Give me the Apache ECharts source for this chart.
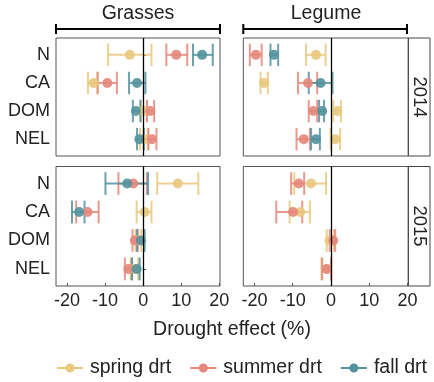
<!DOCTYPE html>
<html>
<head>
<meta charset="utf-8">
<script src="https://cdn.jsdelivr.net/npm/echarts@6/dist/echarts.min.js"></script>
<style>
  html, body { margin: 0; padding: 0; background: #fff; }
  #chart { width: 434px; height: 382px; }
</style>
</head>
<body>
<div id="chart"></div>
<script>
// categories (top to bottom) and x ticks
const categories = ['N', 'CA', 'DOM', 'NEL'];
const xTicks = [-20, -10, 0, 10, 20];
const seasons = ['spring drt', 'summer drt', 'fall drt'];

// each row: [mean, lower, upper] for N, CA, DOM, NEL
const grass2014Spring = [[-3.5, -9.2, 2.2], [-13.0, -14.5, -11.9], [0.2, -0.7, 1.0], [0.4, -0.8, 1.2]];
const grass2014Summer = [[8.7, 6.1, 11.6], [-9.4, -12.0, -6.9], [1.9, 1.0, 2.9], [2.3, 1.4, 3.5]];
const grass2014Fall = [[15.5, 13.1, 18.3], [-1.6, -3.7, 0.6], [-1.9, -2.7, -0.7], [-1.0, -1.6, 0.2]];

const legume2014Spring = [[-3.9, -6.5, -1.4], [-17.5, -18.4, -16.5], [1.7, 0.6, 2.6], [1.1, -0.1, 2.4]];
const legume2014Summer = [[-19.6, -21.2, -18.1], [-6.0, -8.6, -3.6], [-4.6, -5.8, -3.6], [-7.1, -9.0, -5.5]];
const legume2014Fall = [[-14.9, -15.8, -13.8], [-2.7, -5.8, 0.4], [-2.3, -3.1, -1.8], [-3.9, -5.2, -2.9]];

const grass2015Spring = [[9.1, 3.7, 14.5], [0.4, -1.7, 2.2], [-1.3, -2.0, -0.5], [-2.3, -3.3, -1.3]];
const grass2015Summer = [[-2.6, -6.5, 1.0], [-14.6, -17.6, -11.7], [-2.2, -2.8, -1.4], [-3.9, -4.8, -3.0]];
const grass2015Fall = [[-4.2, -9.9, 1.3], [-16.8, -18.7, -15.4], [-0.6, -1.6, 0.4], [-1.7, -2.9, -0.9]];

const legume2015Spring = [[-5.2, -9.6, -1.3], [-8.0, -10.8, -5.5], [-0.4, -1.1, 0.8], [-1.0, -2.5, 0.1]];
const legume2015Summer = [[-8.4, -10.4, -7.0], [-9.9, -14.3, -7.5], [0.6, -0.3, 1.1], [-1.1, -2.3, 0.0]];

const colors = ['#E9C87E', '#E5877B', '#53929F'];
const font = 'Liberation Sans';

// one entry per panel: [spring, summer, fall]
const panels = [
  [grass2014Spring, grass2014Summer, grass2014Fall],
  [legume2014Spring, legume2014Summer, legume2014Fall],
  [grass2015Spring, grass2015Summer, grass2015Fall],
  [legume2015Spring, legume2015Summer, null]
];

const gridPos = [
  { left: 56, top: 38, width: 164, height: 118 },
  { left: 243.3, top: 38, width: 165, height: 118 },
  { left: 56, top: 166.5, width: 164, height: 119.5 },
  { left: 243.3, top: 166.5, width: 165, height: 119.5 }
];

const capH = 0.8;

const xAxes = gridPos.map((g, i) => ({
  type: 'value', gridIndex: i, min: -22.9, max: 20.2,
  splitLine: { show: false },
  axisLine: { show: false },
  axisTick: { show: i >= 2, inside: true, length: 3, customValues: xTicks, lineStyle: { color: '#555' } },
  axisLabel: { show: i >= 2, customValues: xTicks, fontSize: 18, color: '#222', margin: 6, fontFamily: font }
}));

const yAxes = gridPos.map((g, i) => ({
  type: 'value', gridIndex: i, min: 0.4, max: 4.6, inverse: true,
  splitLine: { show: false },
  axisLine: { show: false },
  axisTick: { show: i % 2 === 0, inside: true, length: 3, customValues: [1, 2, 3, 4], lineStyle: { color: '#555' } },
  axisLabel: {
    show: i % 2 === 0, customValues: [1, 2, 3, 4], fontSize: 18, color: '#222', margin: 6, fontFamily: font,
    formatter: v => categories[Math.round(v) - 1]
  }
}));

const series = [];
// zero lines below everything
gridPos.forEach((g, i) => {
  series.push({
    type: 'scatter', xAxisIndex: i, yAxisIndex: i, data: [], z: 1, silent: true,
    markLine: {
      silent: true, symbol: 'none', label: { show: false },
      lineStyle: { color: '#000', width: 1.3, type: 'solid' },
      data: [{ xAxis: 0 }]
    }
  });
});

function errorItem(params, api) {
  const y = api.value(2);
  const a = api.coord([api.value(0), y]);
  const b = api.coord([api.value(1), y]);
  const aTop = api.coord([api.value(0), y - capH / 2]);
  const aBot = api.coord([api.value(0), y + capH / 2]);
  const style = { stroke: api.visual('color'), lineWidth: 2, opacity: 0.85 };
  return {
    type: 'group',
    children: [
      { type: 'line', shape: { x1: a[0], y1: a[1], x2: b[0], y2: b[1] }, style },
      { type: 'line', shape: { x1: a[0], y1: aTop[1], x2: a[0], y2: aBot[1] }, style },
      { type: 'line', shape: { x1: b[0], y1: aTop[1], x2: b[0], y2: aBot[1] }, style }
    ]
  };
}

// error bars
panels.forEach((sets, i) => {
  sets.forEach((arr, s) => {
    if (!arr) return;
    series.push({
      type: 'custom', name: seasons[s], xAxisIndex: i, yAxisIndex: i, z: 2,
      itemStyle: { color: colors[s] },
      renderItem: errorItem,
      encode: { x: [0, 1], y: 2 },
      data: arr.map((d, k) => [d[1], d[2], k + 1])
    });
  });
});
// points
panels.forEach((sets, i) => {
  sets.forEach((arr, s) => {
    if (!arr) return;
    series.push({
      type: 'scatter', name: seasons[s], xAxisIndex: i, yAxisIndex: i, z: 3,
      symbolSize: 10,
      itemStyle: { color: colors[s], opacity: 0.9 },
      data: arr.map((d, k) => [d[0], k + 1])
    });
  });
});

const legendIcon = 'path://M0,4L26,4L26,6L0,6Z M8.5,5A4.5,4.5,0,1,1,17.5,5A4.5,4.5,0,1,1,8.5,5Z';

const bracket = (x1, x2) => ({
  type: 'polyline',
  shape: { points: [[x1, 24], [x1, 34], [x1, 29], [x2, 29], [x2, 24], [x2, 34]] },
  style: { stroke: '#000', lineWidth: 2, fill: null }
});

const chart = echarts.init(document.getElementById('chart'));
chart.setOption({
  animation: false,
  textStyle: { fontFamily: font },
  grid: gridPos.map(g => Object.assign({
    show: true, borderColor: '#555', borderWidth: 1, containLabel: false, outerBoundsMode: 'none'
  }, g)),
  xAxis: xAxes,
  yAxis: yAxes,
  legend: {
    left: 57, top: 358, width: 420, padding: 0, itemWidth: 26, itemHeight: 10, itemGap: 19,
    icon: legendIcon,
    data: seasons.map((s, k) => ({ name: s, itemStyle: { color: colors[k] } })),
    textStyle: { fontSize: 19.5, color: '#222', fontFamily: font, padding: [0, 0, 0, 2] }
  },
  graphic: [
    { type: 'text', x: 138, y: 14, style: { text: 'Grasses', fontSize: 19.5, fill: '#222', fontFamily: font, textAlign: 'center', textVerticalAlign: 'middle' } },
    { type: 'text', x: 326, y: 14, style: { text: 'Legume', fontSize: 19.5, fill: '#222', fontFamily: font, textAlign: 'center', textVerticalAlign: 'middle' } },
    bracket(56, 220),
    bracket(243.3, 407),
    { type: 'rect', shape: { x: 408.3, y: 38, width: 21.7, height: 118 }, style: { stroke: '#444', fill: null, lineWidth: 1 } },
    { type: 'rect', shape: { x: 408.3, y: 166.5, width: 21.7, height: 119.5 }, style: { stroke: '#444', fill: null, lineWidth: 1 } },
    { type: 'text', x: 419.5, y: 97, rotation: -Math.PI / 2, style: { text: '2014', fontSize: 18.5, fill: '#222', fontFamily: font, textAlign: 'center', textVerticalAlign: 'middle' } },
    { type: 'text', x: 419.5, y: 226, rotation: -Math.PI / 2, style: { text: '2015', fontSize: 18.5, fill: '#222', fontFamily: font, textAlign: 'center', textVerticalAlign: 'middle' } },
    { type: 'text', x: 232, y: 330, style: { text: 'Drought effect (%)', fontSize: 19.5, fill: '#222', fontFamily: font, textAlign: 'center', textVerticalAlign: 'middle' } }
  ],
  series: series
});
</script>
</body>
</html>
